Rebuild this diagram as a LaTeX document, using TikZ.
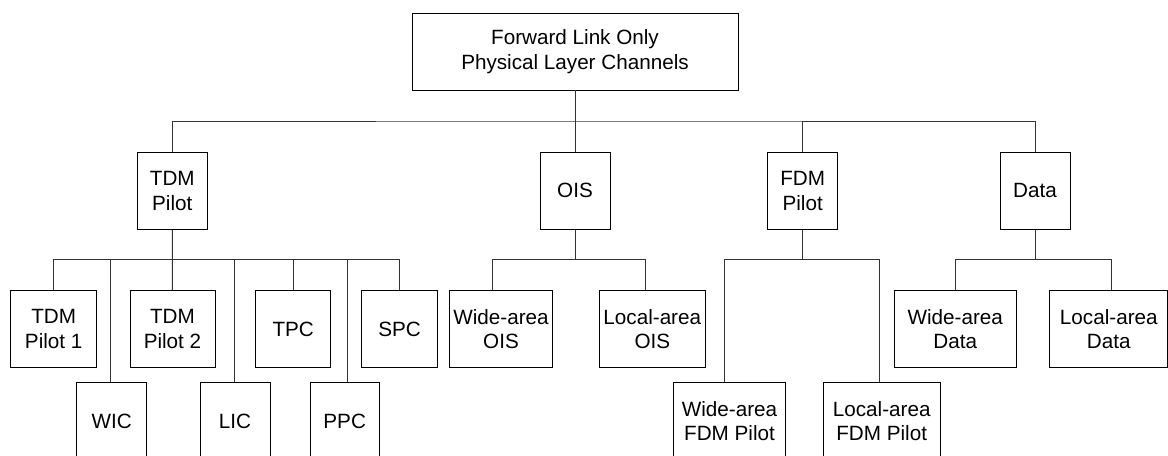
\documentclass[tikz,border=0pt]{standalone}
\usepackage{fontspec}
\setmainfont{Liberation Sans}
\usetikzlibrary{positioning, calc}

\begin{document}
\begin{tikzpicture}[x=0.75pt, y=-0.75pt,
    box/.style={rectangle, draw=black, line width=0.7pt, minimum height=57.75pt, inner sep=0pt, align=center, font=\fontsize{15.5}{18.5}\selectfont},
    link/.style={draw=black!80, line width=0.7pt}
]
    \useasboundingbox (0,0) rectangle (1168,456);
    \clip (0,0) rectangle (1168,456);

    % Root
    \node[box, minimum width=244.5pt] (root) at (575,51.5) {Forward Link Only\\Physical Layer Channels};

    % First level
    \node[box, minimum width=52.5pt] (tdm) at (172.3,190.7) {TDM\\Pilot};
    \node[box, minimum width=52.5pt] (ois) at (575,190.7) {OIS};
    \node[box, minimum width=52.5pt] (fdm) at (802.7,190.7) {FDM\\Pilot};
    \node[box, minimum width=52.5pt] (data) at (1035,190.7) {Data};

    % TDM pilot channels
    \node[box, minimum width=64.5pt] (tdmA) at (53.7,329) {TDM\\Pilot 1};
    \node[box, minimum width=63.75pt] (tdmB) at (172.5,329) {TDM\\Pilot 2};
    \node[box, minimum width=56.25pt] (tpc) at (293.2,329) {TPC};
    \node[box, minimum width=56.7pt] (spc) at (399.5,329) {SPC};
    \node[box, minimum width=52.5pt] (wic) at (111.7,421.2) {WIC};
    \node[box, minimum width=52.5pt] (lic) at (235,421.2) {LIC};
    \node[box, minimum width=52pt] (ppc) at (344.7,421.2) {PPC};

    % OIS channels
    \node[box, minimum width=77.5pt] (woisc) at (501,329) {Wide-area\\OIS};
    \node[box, minimum width=80pt] (loisc) at (652.3,329) {Local-area\\OIS};

    % FDM pilot channels
    \node[box, minimum width=83.7pt] (wfdm) at (729.5,421.2) {Wide-area\\FDM Pilot};
    \node[box, minimum width=87.5pt] (lfdm) at (881.7,421.2) {Local-area\\FDM Pilot};

    % Data channels
    \node[box, minimum width=92pt] (wdata) at (955.3,329) {Wide-area\\Data};
    \node[box, minimum width=88.3pt] (ldata) at (1108.8,329) {Local-area\\Data};

    % Bus coordinates
    \coordinate (bus) at (575,121);
    \coordinate (tdmbus) at (172.5,259.5);

    % Links
    \draw[link] (root) -- (ois);
    \draw[link] (tdm.north) |- (bus) -| (data.north);
    \draw[link] (fdm.north) -- (fdm.north |- bus);

    \draw[link] (tdm) -- (tdmB);
    \draw[link] (tdmA.north) |- (tdmbus) -| (spc.north);
    \foreach \n in {tpc}
        \draw[link] (\n.north) -- (\n.north |- tdmbus);
    \draw[link] ([xshift=-0.75pt]wic.north) -- ([xshift=-0.75pt]wic.north |- tdmbus);
    \draw[link] ([xshift=-0.5pt]lic.north) -- ([xshift=-0.5pt]lic.north |- tdmbus);
    \draw[link] ([xshift=2.25pt]ppc.north) -- ([xshift=2.25pt]ppc.north |- tdmbus);

    \draw[link] (ois.south) -- (ois.south |- tdmbus);
    \draw[link] ([xshift=-6.75pt]woisc.north) |- (ois.south |- tdmbus) -| ([xshift=-5.25pt]loisc.north);

    \draw[link] (fdm.south) -- (fdm.south |- tdmbus);
    \draw[link] ([xshift=-4pt]wfdm.north) |- (fdm.south |- tdmbus) -| ([xshift=-1.75pt]lfdm.north);

    \draw[link] (data.south) -- (data.south |- tdmbus);
    \draw[link] (wdata.north) |- (data.south |- tdmbus) -| ([xshift=2.25pt]ldata.north);
\end{tikzpicture}
\end{document}
